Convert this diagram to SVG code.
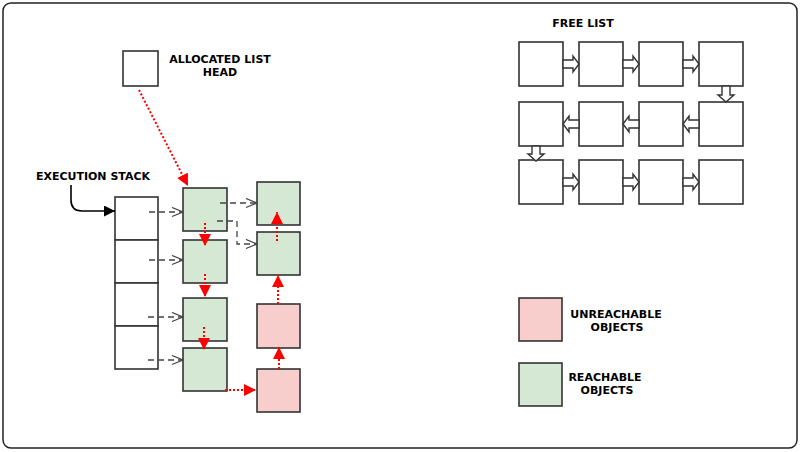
<svg xmlns="http://www.w3.org/2000/svg" width="800" height="452" viewBox="0 0 800 452">
<defs>
<style>
.lbl{font-family:"DejaVu Sans","Liberation Sans",sans-serif;font-weight:bold;font-size:11px;fill:#000}
.box{stroke:#333;stroke-width:1.6}
.w{fill:#fff}
.g{fill:#d5e8d4}
.p{fill:#f8cecc}
.red{stroke:#f00;stroke-width:2;stroke-dasharray:2 2;fill:none;marker-end:url(#ra)}
.dash{stroke:#444;stroke-width:1.3;stroke-dasharray:6 4;fill:none;marker-end:url(#oa)}
.blk{fill:#fff;stroke:#333;stroke-width:1.4}
</style>
<marker id="ra" viewBox="0 0 12 12" refX="12" refY="6" markerWidth="12" markerHeight="12" markerUnits="userSpaceOnUse" orient="auto"><path d="M0,0 L12,6 L0,12 z" fill="#f00"/></marker>
<marker id="ba" viewBox="0 0 11 11" refX="11" refY="5.5" markerWidth="11" markerHeight="11" markerUnits="userSpaceOnUse" orient="auto"><path d="M0,0 L11,5.5 L0,11 z" fill="#000"/></marker>
<marker id="oa" viewBox="0 0 13 11" refX="12" refY="5.5" markerWidth="13" markerHeight="11" markerUnits="userSpaceOnUse" orient="auto"><path d="M1,1 L12,5.5 L1,10" fill="none" stroke="#444" stroke-width="1.3"/></marker>
</defs>
<rect x="3" y="3" width="794" height="445" rx="8" fill="#fff" stroke="#222" stroke-width="1.5"/>

<g id="alloc-head"><rect class="box w" x="123" y="51" width="35" height="35"/></g>
<g id="alloc-label"><text class="lbl" x="220" y="63" text-anchor="middle">ALLOCATED LIST</text><text class="lbl" x="220" y="76" text-anchor="middle">HEAD</text></g>
<g id="exec-label"><text class="lbl" x="93" y="180" text-anchor="middle">EXECUTION STACK</text></g>

<g id="stack">
<rect class="box w" x="115" y="197" width="43" height="43"/>
<rect class="box w" x="115" y="240" width="43" height="43"/>
<rect class="box w" x="115" y="283" width="43" height="43"/>
<rect class="box w" x="115" y="326" width="43" height="43"/>
</g>

<g id="g1"><rect class="box g" x="183" y="188" width="44" height="43"/></g>
<g id="g2"><rect class="box g" x="183" y="240" width="44" height="43"/></g>
<g id="g3"><rect class="box g" x="183" y="298" width="44" height="43"/></g>
<g id="g4"><rect class="box g" x="183" y="348" width="44" height="43"/></g>
<g id="gA"><rect class="box g" x="257" y="182" width="43" height="43"/></g>
<g id="gB"><rect class="box g" x="257" y="232" width="43" height="43"/></g>
<g id="pC"><rect class="box p" x="257" y="304" width="43" height="44"/></g>
<g id="pD"><rect class="box p" x="257" y="369" width="43" height="43"/></g>

<g id="free-label"><text class="lbl" x="583" y="27" text-anchor="middle">FREE LIST</text></g>
<g id="free-list">
<rect class="box w" x="519" y="42" width="44" height="44"/>
<rect class="box w" x="579" y="42" width="44" height="44"/>
<rect class="box w" x="639" y="42" width="44" height="44"/>
<rect class="box w" x="699" y="42" width="44" height="44"/>
<rect class="box w" x="519" y="102" width="44" height="44"/>
<rect class="box w" x="579" y="102" width="44" height="44"/>
<rect class="box w" x="639" y="102" width="44" height="44"/>
<rect class="box w" x="699" y="102" width="44" height="44"/>
<rect class="box w" x="519" y="160" width="44" height="44"/>
<rect class="box w" x="579" y="160" width="44" height="44"/>
<rect class="box w" x="639" y="160" width="44" height="44"/>
<rect class="box w" x="699" y="160" width="44" height="44"/>
</g>

<g id="legend-unreachable"><rect class="box p" x="519" y="298" width="43" height="43"/><text class="lbl" x="616" y="318" text-anchor="middle">UNREACHABLE</text><text class="lbl" x="617" y="331" text-anchor="middle">OBJECTS</text></g>
<g id="legend-reachable"><rect class="box g" x="519" y="363" width="43" height="43"/><text class="lbl" x="605" y="381" text-anchor="middle">REACHABLE</text><text class="lbl" x="607" y="394" text-anchor="middle">OBJECTS</text></g>

<g id="connectors">
<path class="red" d="M139,90 L188,186"/>
<path d="M71,185 L71,200 Q71,211 82,211 L115,211" fill="none" stroke="#000" stroke-width="1.6" marker-end="url(#ba)"/>
<path class="dash" d="M149,212 H183"/>
<path class="dash" d="M149,260 H183"/>
<path class="dash" d="M148,317 H183"/>
<path class="dash" d="M148,360 H183"/>
<path class="dash" d="M220,203 H257"/>
<path class="dash" d="M217,221 H237 V244 H257"/>
<path class="red" d="M205,223 V246"/>
<path class="red" d="M205,274 V297"/>
<path class="red" d="M204,327 V350"/>
<path class="red" d="M225,390 H256"/>
<path class="red" d="M279,369 V347"/>
<path class="red" d="M278,304 V275"/>
<path class="red" d="M277,241 V212"/>
<polygon class="blk" points="563,60 573,60 573,56 579,64 573,72 573,68 563,68"/>
<polygon class="blk" points="623,60 633,60 633,56 639,64 633,72 633,68 623,68"/>
<polygon class="blk" points="683,60 693,60 693,56 699,64 693,72 693,68 683,68"/>
<polygon class="blk" points="722,86 722,95 718,95 726,102 734,95 730,95 730,86"/>
<polygon class="blk" points="579,120 569,120 569,116 563,124 569,132 569,128 579,128"/>
<polygon class="blk" points="639,120 629,120 629,116 623,124 629,132 629,128 639,128"/>
<polygon class="blk" points="699,120 689,120 689,116 683,124 689,132 689,128 699,128"/>
<polygon class="blk" points="532,146 532,154 528,154 536,161 544,154 540,154 540,146"/>
<polygon class="blk" points="563,178 573,178 573,174 579,182 573,190 573,186 563,186"/>
<polygon class="blk" points="623,178 633,178 633,174 639,182 633,190 633,186 623,186"/>
<polygon class="blk" points="683,178 693,178 693,174 699,182 693,190 693,186 683,186"/>
</g>
</svg>
